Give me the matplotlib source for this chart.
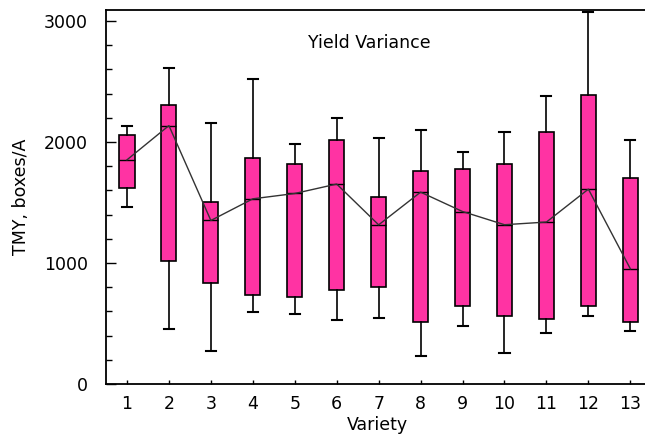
import matplotlib
matplotlib.use("Agg")
import matplotlib.pyplot as plt
from matplotlib.ticker import MultipleLocator, FixedLocator

varieties = [1, 2, 3, 4, 5, 6, 7, 8, 9, 10, 11, 12, 13]
whisker_hi = [2135, 2612, 2160, 2521, 1982, 2199, 2034, 2097, 1916, 2083, 2381, 3077, 2020]
box_hi     = [2058, 2304, 1505, 1869, 1817, 2020, 1544, 1761, 1775, 1817, 2083, 2391, 1698]
medians    = [1852, 2135, 1351, 1530, 1574, 1652, 1315, 1585, 1425, 1316, 1338, 1610, 952]
box_lo     = [1623, 1013, 836, 732, 718, 773, 798, 512, 641, 564, 539, 641, 514]
whisker_lo = [1466, 454, 269, 594, 578, 528, 542, 234, 476, 256, 424, 564, 440]

title_text = "Yield Variance"
xlabel_text = "Variety"
ylabel_text = "TMY, boxes/A"

W, H = 645, 434
fig = plt.figure(figsize=(W/100, H/100), dpi=100)
ax = fig.add_axes([106/W, 50/H, 545.3/W, 374/H])

stats = []
for i in range(len(varieties)):
    stats.append(dict(med=medians[i], q1=box_lo[i], q3=box_hi[i],
                      whislo=whisker_lo[i], whishi=whisker_hi[i], fliers=[]))

ax.bxp(stats, positions=varieties, widths=0.36, capwidths=0.24,
       patch_artist=True, showfliers=False,
       boxprops=dict(facecolor="#FF33A3", edgecolor="black", linewidth=1.2),
       medianprops=dict(color="black", linewidth=1.0),
       whiskerprops=dict(color="black", linewidth=1.2),
       capprops=dict(color="black", linewidth=1.5))

ax.plot(varieties, medians, color="#333333", linewidth=1.0, zorder=3)

ax.set_xlim(0.5, 13.5)
ax.set_ylim(0, 3090)

ax.spines["right"].set_visible(False)
for s in ["left", "bottom", "top"]:
    ax.spines[s].set_linewidth(1.3)

fs = 12.5
ax.xaxis.set_major_locator(FixedLocator(varieties))
ax.set_xticklabels([str(v) for v in varieties], fontsize=fs)
ax.xaxis.set_minor_locator(FixedLocator([5, 10]))
ax.tick_params(axis="x", which="major", direction="in", length=3, width=1, pad=8, top=False)
ax.tick_params(axis="x", which="minor", direction="in", length=7.5, width=1, top=False)

ax.yaxis.set_major_locator(MultipleLocator(1000))
ax.yaxis.set_minor_locator(MultipleLocator(200))
ax.tick_params(axis="y", which="major", direction="in", length=7.5, width=1, pad=13, labelsize=fs)
ax.tick_params(axis="y", which="minor", direction="in", length=4, width=1)

fig.text(369/W, 1 - 43/H, title_text, ha="center", va="center", fontsize=fs)
fig.text(377/W, 1 - 425/H, xlabel_text, ha="center", va="center", fontsize=fs)
fig.text(21/W, 1 - 197/H, ylabel_text, ha="center", va="center", rotation=90, fontsize=fs)

fig.savefig("out.png", dpi=100)
